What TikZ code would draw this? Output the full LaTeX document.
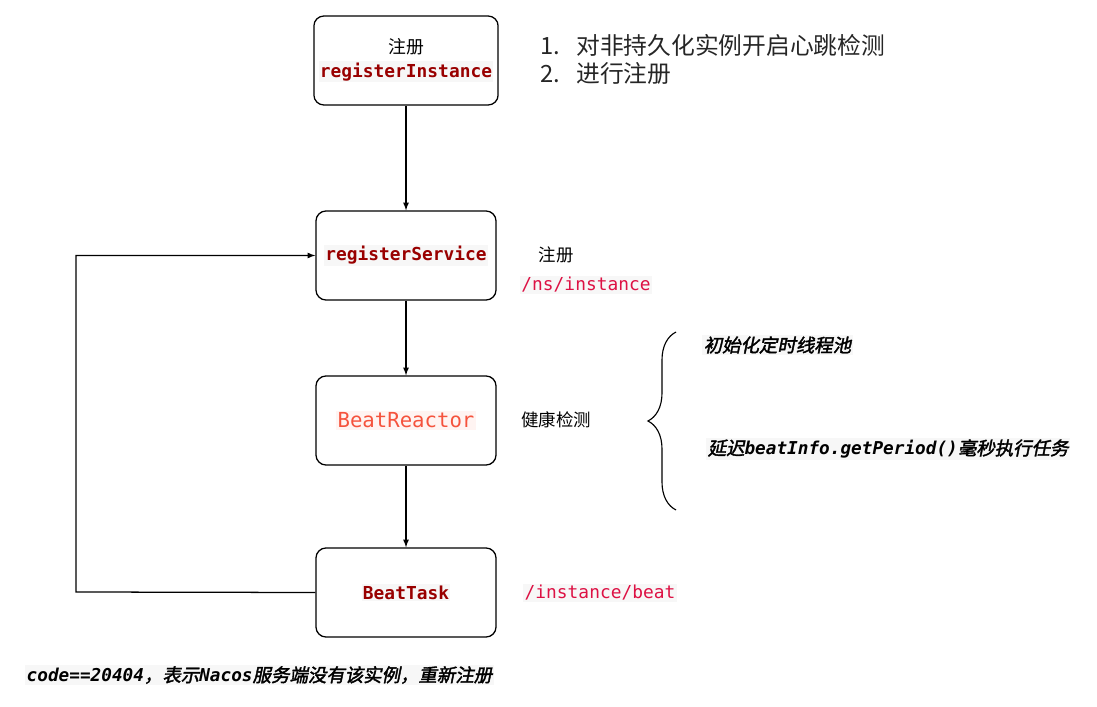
\documentclass[tikz,border=0pt]{standalone}
\usepackage{fontspec}
\setmainfont{Noto Sans CJK SC}
\setmonofont{DejaVu Sans Mono}
\newfontfamily\cjkbi{Noto Sans CJK SC}[FakeSlant=0.2,FakeBold=2,Scale=1.04]
\tikzset{>=latex}
\usetikzlibrary{decorations.pathreplacing}
\definecolor{codered}{HTML}{990000}
\definecolor{pathred}{HTML}{DD1144}
\definecolor{reactred}{HTML}{F5533D}
\colorlet{codebg}{black!3}
\definecolor{reactbg}{HTML}{FFF4F2}
\newcommand{\codebox}[2][codebg]{{\setlength{\fboxsep}{1pt}\colorbox{#1}{#2}}}
\newcommand{\bimono}[1]{{\ttfamily\bfseries\itshape #1}}

\begin{document}
\begin{tikzpicture}[x=0.025cm,y=-0.025cm,
    box/.style={draw,line width=0.9pt,rounded corners=0.25cm,minimum width=4.5cm,
      minimum height=2.225cm,align=center,font=\fontsize{12.7}{16.4}\selectfont},
    cn/.style={font=\fontsize{12.4}{16}\selectfont,inner sep=0pt},
    url/.style={font=\fontsize{12.7}{16}\selectfont\ttfamily,text=pathred,inner sep=0pt},
    tip/.style={font=\fontsize{12.6}{16}\selectfont,anchor=west,inner sep=0pt},
    link/.style={->,line width=0.9pt}]
  \useasboundingbox (0,0) rectangle (1097,707);
  % steps
  \node[box] (inst) at (406,60.5) {注册\\\codebox{\ttfamily\bfseries\color{codered}registerInstance}};
  \node[box] (svc) at (406,255.5) {\codebox{\ttfamily\bfseries\color{codered}registerService}};
  \node[box,font=\fontsize{14.7}{18}\selectfont] (reactor) at (406,420.5)
    {\codebox[reactbg]{\ttfamily\color{reactred}BeatReactor}};
  \node[box] (task) at (406,592.5) {\codebox{\ttfamily\bfseries\color{codered}BeatTask}};
  % arrows
  \draw[link] (inst) -- (svc);
  \draw[link] (svc) -- (reactor);
  \draw[link] (reactor) -- (task);
  \coordinate (back) at (76,592);
  \draw[link] (task.west) -- (back) |- (svc.west);
  % notes beside the steps
  \node[anchor=west,inner sep=0pt,font=\fontsize{16.9}{20}\selectfont,text=black!85] (todo1) at (540,45)
    {\makebox[0.9cm][l]{1.}对非持久化实例开启心跳检测};
  \node[anchor=west,inner sep=0pt,font=\fontsize{16.9}{20}\selectfont,text=black!85] (todo2) at (540,73)
    {\makebox[0.9cm][l]{2.}进行注册};
  \node[cn] (svcnote) at (556,255) {注册};
  \node[url] (svcurl) at (586,285) {\codebox{/ns/instance}};
  \node[cn] (reactnote) at (556,420) {健康检测};
  \node[url] (taskurl) at (600,593) {\codebox{/instance/beat}};
  % brace
  \coordinate (brbot) at (676,510);
  \coordinate (brtop) at (676,332);
  \draw[line width=0.8pt,decorate,decoration={brace,amplitude=0.7cm}] (brbot) -- (brtop);
  \node[tip] (pool) at (702,345) {\codebox{\cjkbi 初始化定时线程池}};
  \node[tip] (delay) at (706,449)
    {\codebox{{\cjkbi 延迟}\bimono{beatInfo.getPeriod()}{\cjkbi 毫秒执行任务}}};
  % bottom remark
  \node[tip] (remark) at (25,675)
    {\codebox{\bimono{code==20404}{\cjkbi ，表示}\bimono{Nacos}{\cjkbi 服务端没有该实例，重新注册}}};
\end{tikzpicture}
\end{document}
